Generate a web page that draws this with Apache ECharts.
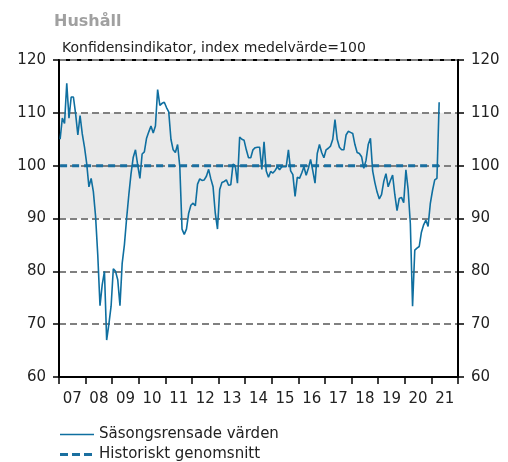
<!DOCTYPE html>
<html><head><meta charset="utf-8">
<script src="https://cdn.jsdelivr.net/npm/echarts@6/dist/echarts.min.js"></script>
<style>html,body{margin:0;padding:0;background:#fff}#c{width:508px;height:462px}</style>
</head><body><div id="c"></div>
<script>
// Monthly values, Jan 2007 – Apr 2021
const y2007 = [105, 109, 108, 115.6, 109, 113, 113, 109.8, 105.8, 109.5, 106, 103.5];
const y2008 = [100.4, 96, 97.6, 95.1, 90.4, 83, 73.5, 77.5, 80, 67, 70, 73.4];
const y2009 = [80.5, 80, 78.4, 73.5, 81.5, 85, 90, 94.5, 98.5, 101.6, 103, 100.1];
const y2010 = [97.6, 102.2, 102.6, 105.2, 106.4, 107.5, 106.2, 107.5, 114.4, 111.4, 111.8, 112];
const y2011 = [111, 110.2, 105, 103, 102.5, 104, 99.8, 88, 87, 88, 91, 92.5];
const y2012 = [92.9, 92.4, 96.5, 97.5, 97.2, 97.3, 98, 99.3, 97.5, 96, 91, 88];
const y2013 = [95.5, 96.8, 97, 97.3, 96.3, 96.4, 100.3, 100, 96.7, 105.4, 105, 104.8];
const y2014 = [103, 101.5, 101.5, 103, 103.4, 103.5, 103.5, 99.3, 104.5, 99, 97.8, 98.9];
const y2015 = [98.6, 99.1, 99.8, 99.2, 99.8, 99.8, 99.8, 103, 99, 98.3, 94.2, 97.8];
const y2016 = [97.6, 98.6, 99.8, 98.2, 99.5, 101.2, 99, 96.7, 102.3, 104, 102.5, 101.5];
const y2017 = [103, 103.3, 103.7, 105, 108.7, 105, 103.5, 103, 103, 105.8, 106.5, 106.3];
const y2018 = [106.1, 104, 102.5, 102.3, 101.7, 99.5, 101, 104, 105.2, 99, 96.8, 95];
const y2019 = [93.7, 94.5, 97, 98.5, 96, 97.2, 98.2, 94.5, 91.5, 93.8, 94, 93];
const y2020 = [99.2, 95.5, 89, 73.4, 84, 84.4, 84.7, 87.4, 88.8, 89.7, 88.5, 92.8];
const y2021 = [95.3, 97.3, 97.6, 112];

const yearLabels = ['07','08','09','10','11','12','13','14','15','16','17','18','19','20','21'];
const historicalAverage = 100;
const seriesNames = ['Säsongsrensade värden', 'Historiskt genomsnitt'];
const titleText = 'Hushåll';
const subtitleText = 'Konfidensindikator, index medelvärde=100';

const monthly = [].concat(y2007, y2008, y2009, y2010, y2011, y2012, y2013, y2014,
  y2015, y2016, y2017, y2018, y2019, y2020, y2021);
const lineData = monthly.map((v, i) => [i + 0.5, v]);
const avgData = monthly.map((v, i) => [i + 0.5, historicalAverage]);

const font = 'DejaVu Sans';
const chart = echarts.init(document.getElementById('c'), null, {renderer: 'canvas'});
const yAxisBase = {
  type: 'value', min: 60, max: 120, interval: 10,
  axisLine: {show: true, lineStyle: {color: '#000', width: 2}},
  axisTick: {show: true, inside: false, length: 6, lineStyle: {color: '#000', width: 1.5}},
  axisLabel: {fontFamily: font, fontSize: 15, color: '#222', margin: 13}
};
const solidIcon = 'path://M0,0H0.01V0.01H0Z M0,1.2H34V2.8H0Z M0,3.99H0.01V4H0Z';
const dashIcon = 'path://M0,0.5H8V3.5H0Z M12,0.5H20V3.5H12Z M24,0.5H32V3.5H24Z M33.99,0H34V0.01H33.99Z M33.99,3.99H34V4H33.99Z';
const legendBase = {
  orient: 'horizontal', left: 60, itemWidth: 34, itemHeight: 4, padding: 0, itemGap: 6,
  textStyle: {fontFamily: font, fontSize: 15, color: '#222'}
};
chart.setOption({
  animation: false,
  backgroundColor: '#fff',
  title: [
    {text: titleText, left: 49, top: 9, textStyle: {fontFamily: font, fontSize: 16, fontWeight: 'bold', color: '#a0a0a0'}},
    {text: subtitleText, left: 57, top: 36, textStyle: {fontFamily: font, fontSize: 14, fontWeight: 'normal', color: '#222'}}
  ],
  grid: {left: 59, right: 50, top: 60, bottom: 85, show: true, borderColor: '#000', borderWidth: 2, backgroundColor: 'transparent'},
  xAxis: {
    type: 'value', min: 0, max: 180, interval: 12,
    axisLine: {show: true, lineStyle: {color: '#000', width: 2}},
    axisTick: {show: true, length: 7, lineStyle: {color: '#000', width: 1.5}},
    splitLine: {show: false},
    axisLabel: {
      fontFamily: font, fontSize: 15, color: '#222', margin: 15,
      padding: [0, 0, 0, 26.6],
      formatter: v => yearLabels[v / 12] || ''
    }
  },
  yAxis: [
    Object.assign({}, yAxisBase, {
      position: 'left',
      splitLine: {show: true, lineStyle: {color: '#808080', width: 2, type: [7, 4]}},
      splitArea: {show: true, areaStyle: {color: ['rgba(0,0,0,0)','rgba(0,0,0,0)','rgba(0,0,0,0)','#e9e9e9','#e9e9e9','rgba(0,0,0,0)']}}
    }),
    Object.assign({}, yAxisBase, {position: 'right', splitLine: {show: false}, splitArea: {show: false}})
  ],
  legend: [
    Object.assign({}, legendBase, {top: 427, data: [{name: seriesNames[0], icon: solidIcon}]}),
    Object.assign({}, legendBase, {top: 447, data: [{name: seriesNames[1], icon: dashIcon}]})
  ],
  series: [
    {name: seriesNames[0], type: 'line', data: lineData, showSymbol: false, symbol: 'none',
     lineStyle: {color: '#0f6fa0', width: 1.6}, itemStyle: {color: '#0f6fa0'}, z: 3},
    {name: seriesNames[1], type: 'line', data: avgData, showSymbol: false, symbol: 'none',
     lineStyle: {color: '#1a6fa0', width: 3, type: [7, 5]}, itemStyle: {color: '#1a6fa0'}, z: 2}
  ]
});
</script></body></html>
